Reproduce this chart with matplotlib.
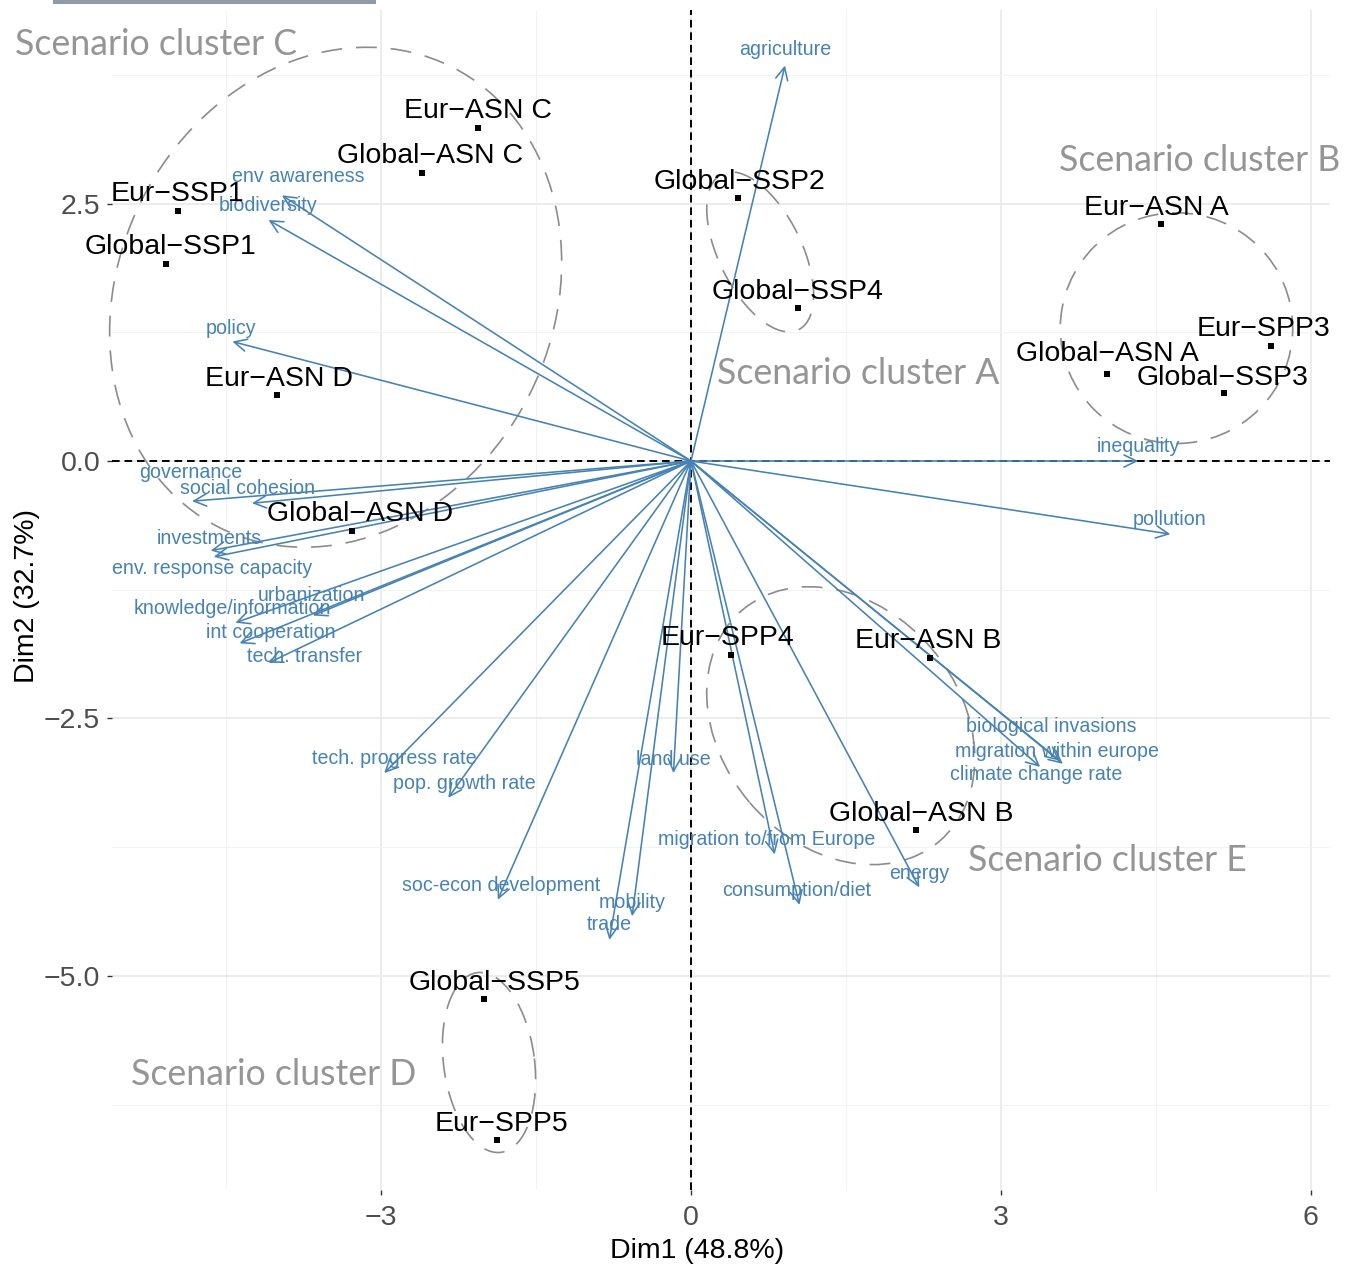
import numpy as np
import matplotlib
matplotlib.use("Agg")
import matplotlib.pyplot as plt
from matplotlib.patches import FancyArrowPatch, Ellipse, Rectangle

plt.rcParams['font.family'] = ['Liberation Sans', 'DejaVu Sans']
plt.rcParams['lines.scale_dashes'] = False

# ---------------- data ----------------
scen_names = ["Eur\u2212ASN C", "Global\u2212ASN C", "Eur\u2212SSP1", "Global\u2212SSP1",
              "Eur\u2212ASN D", "Global\u2212ASN D", "Global\u2212SSP2", "Global\u2212SSP4",
              "Eur\u2212ASN A", "Eur\u2212SPP3", "Global\u2212ASN A", "Global\u2212SSP3",
              "Eur\u2212SPP4", "Eur\u2212ASN B", "Global\u2212ASN B", "Global\u2212SSP5",
              "Eur\u2212SPP5"]
scen_x = [-2.062, -2.604, -4.966, -5.082, -4.008, -3.282, 0.455, 1.036,
          4.550, 5.615, 4.027, 5.160, 0.387, 2.314, 2.178, -2.004, -1.878]
scen_y = [3.233, 2.796, 2.427, 1.913, 0.641, -0.680, 2.553, 1.485,
          2.301, 1.117, 0.845, 0.660, -1.883, -1.913, -3.583, -5.223, -6.592]
# label anchor (baseline centre) for each scenario label
scen_lab_x = [-2.062, -2.527, -4.976, -5.034, -3.988, -3.204, 0.465, 1.036,
              4.501, 5.547, 4.027, 5.150, 0.358, 2.294, 2.227, -1.897, -1.830]
scen_lab_y = [3.327, 2.890, 2.521, 2.007, 0.725, -0.585, 2.638, 1.570,
              2.385, 1.211, 0.968, 0.735, -1.789, -1.818, -3.498, -5.139, -6.508]

var_names = ["agriculture", "env awareness", "biodiversity", "policy", "governance",
             "social cohesion", "investments", "env. response capacity", "urbanization",
             "knowledge/information", "int cooperation", "tech. transfer",
             "tech. progress rate", "pop. growth rate", "soc-econ development", "trade",
             "mobility", "land use", "migration to/from Europe", "consumption/diet",
             "energy", "biological invasions", "migration within europe",
             "climate change rate", "inequality", "pollution"]
var_x = [0.91, -3.96, -4.09, -4.44, -4.83, -4.25, -4.65, -4.62, -3.66, -4.41, -4.37, -4.09,
         -2.97, -2.35, -1.87, -0.79, -0.57, -0.17, 0.81, 1.05, 2.21, 3.57, 3.60, 3.38,
         4.33, 4.64]
var_y = [3.84, 2.58, 2.34, 1.16, -0.39, -0.41, -0.87, -0.93, -1.50, -1.57, -1.77, -1.96,
         -3.03, -3.27, -4.26, -4.65, -4.42, -3.03, -3.82, -4.31, -4.14, -2.91, -2.94, -2.97,
         0.00, -0.71]
var_lab_x = [0.910, -3.804, -4.095, -4.453, -4.840, -4.289, -4.666, -4.637, -3.669, -4.443,
             -4.066, -3.737, -2.875, -2.197, -1.839, -0.794, -0.571, -0.174, 0.736, 1.026,
             2.207, 3.485, 3.543, 3.340, 4.327, 4.637]
var_lab_y = [3.945, 2.712, 2.430, 1.236, -0.162, -0.317, -0.803, -1.094, -1.356, -1.482,
             -1.715, -1.948, -2.939, -3.182, -4.172, -4.550, -4.337, -2.948, -3.725, -4.220,
             -4.055, -2.628, -2.871, -3.094, 0.090, -0.618]

cluster_names = ["Scenario cluster C", "Scenario cluster B", "Scenario cluster A",
                 "Scenario cluster E", "Scenario cluster D"]
cluster_lab_x = [-6.544, 3.562, 0.252, 2.681, -5.421]
cluster_lab_y = [3.942, 2.811, 0.748, -3.976, -6.063]
ell_cx = [-3.44, 4.70, 0.67, 1.45, -1.955]
ell_cy = [1.59, 1.29, 2.03, -2.57, -5.84]
ell_w = [5.006, 2.25, 1.684, 2.946, 1.76]
ell_h = [4.202, 2.24, 0.804, 2.31, 0.88]
ell_ang = [63.3, 0.0, -63.9, -49.7, 97.5]

x_ticks = [-3, 0, 3, 6]
y_ticks = [2.5, 0.0, -2.5, -5.0]
x_minor = [-4.5, -1.5, 1.5, 4.5]
y_minor = [3.75, 1.25, -1.25, -3.75, -6.25]

# ---------------- figure ----------------
W, H = 1353, 1266
fig = plt.figure(figsize=(W / 100, H / 100), dpi=100)
ax = fig.add_axes([112 / W, 1 - 1190 / H, 1218 / W, 1180 / H])
ax.set_xlim(-5.605, 6.186)
ax.set_ylim(-7.078, 4.379)

steel = "#4682B4"
for s in ax.spines.values():
    s.set_visible(False)
ax.set_xticks(x_ticks)
ax.set_yticks(y_ticks)
ax.set_xticks(x_minor, minor=True)
ax.set_yticks(y_minor, minor=True)
ax.set_xticklabels(["\u22123", "0", "3", "6"])
ax.set_yticklabels(["2.5", "0.0", "\u22122.5", "\u22125.0"])
ax.tick_params(which='major', length=3.5, width=1.0, color="#333333",
               labelsize=20.5, labelcolor="#4D4D4D", pad=5)
ax.tick_params(axis='x', which='major', pad=7)
ax.tick_params(which='minor', length=0)
ax.grid(which='major', color="#EBEBEB", lw=1.3, zorder=0)
ax.grid(which='minor', color="#F2F2F2", lw=0.8, zorder=0)
ax.set_axisbelow(True)

ax.set_xlabel("Dim1 (48.8%)", fontsize=20.5, color="black")
ax.set_ylabel("Dim2 (32.7%)", fontsize=20.5, color="black")
ax.xaxis.set_label_coords((697 - 112) / 1218, (1190 - 1238) / 1180)
ax.yaxis.set_label_coords((40 - 112) / 1218, (1190 - 596) / 1180)

# zero lines
ax.axhline(0, color="black", lw=1.4, ls=(0, (5.5, 3.5)), zorder=2)
ax.axvline(0, color="black", lw=1.4, ls=(0, (5.5, 3.5)), zorder=2)

# ellipses
for cx, cy, w, h, a in zip(ell_cx, ell_cy, ell_w, ell_h, ell_ang):
    e = Ellipse((cx, cy), w, h, angle=a, fill=False, edgecolor="#8C8C8C", lw=1.2,
                ls=(0, (15, 10)), zorder=3, clip_on=False)
    ax.add_patch(e)

# arrows
for vx, vy in zip(var_x, var_y):
    arr = FancyArrowPatch((0, 0), (vx, vy), arrowstyle="->,head_length=0.45,head_width=0.22",
                          mutation_scale=20, color=steel, lw=1.15, shrinkA=0, shrinkB=0,
                          zorder=4)
    ax.add_patch(arr)
for name, lx, ly in zip(var_names, var_lab_x, var_lab_y):
    ax.text(lx, ly, name, color=steel, fontsize=14.1, ha='center', va='baseline', zorder=5)

# scenario points
ax.scatter(scen_x, scen_y, marker='s', s=18, color="black", zorder=6, linewidths=0)
for name, lx, ly in zip(scen_names, scen_lab_x, scen_lab_y):
    ax.text(lx, ly, name, color="black", fontsize=20.5, ha='center', va='baseline', zorder=6)

# cluster labels
for name, lx, ly in zip(cluster_names, cluster_lab_x, cluster_lab_y):
    ax.text(lx, ly, name, color="#959595", fontsize=25.7, family=['Lato', 'DejaVu Sans'],
            ha='left', va='baseline', zorder=7, clip_on=False)

# grey bar at the very top
fig.patches.append(Rectangle((53 / W, 1 - 4 / H), 323 / W, 4 / H, transform=fig.transFigure,
                             facecolor="#8E9BA5", edgecolor="none"))

fig.savefig("out.png", dpi=100)
